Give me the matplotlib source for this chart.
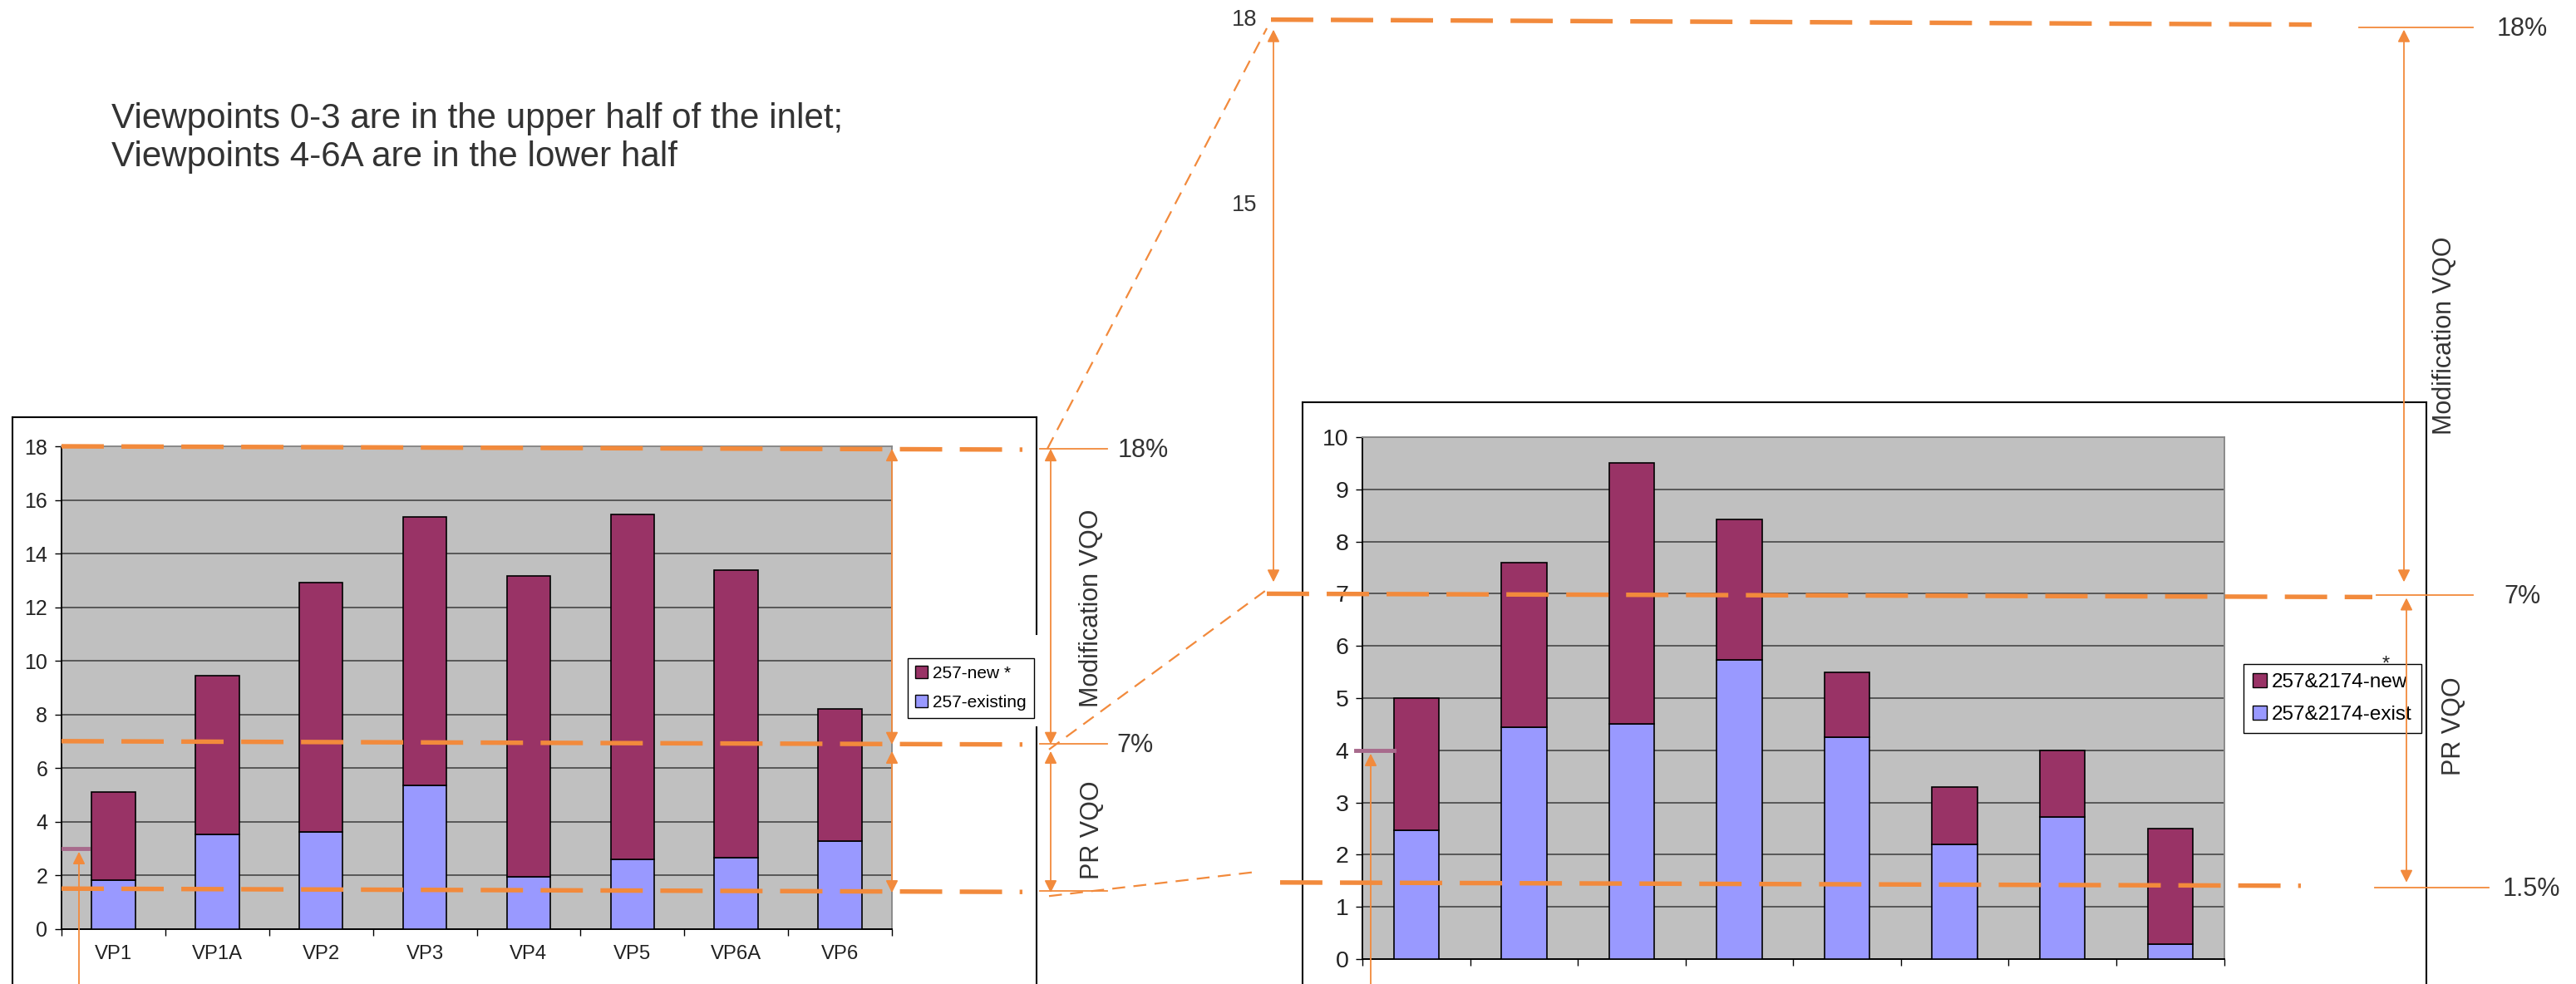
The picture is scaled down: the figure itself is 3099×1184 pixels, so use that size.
import numpy as np
import matplotlib
matplotlib.use('Agg')
import matplotlib.pyplot as plt
from matplotlib import font_manager
from matplotlib.patches import Patch

# data
left_cats = ['VP1', 'VP1A', 'VP2', 'VP3', 'VP4', 'VP5', 'VP6A', 'VP6']
left_existing = [1.81, 3.51, 3.62, 5.36, 1.94, 2.60, 2.66, 3.26]
left_new = [3.30, 5.94, 9.30, 10.01, 11.23, 12.87, 10.71, 4.95]

right_existing = [2.47, 4.44, 4.51, 5.74, 4.25, 2.19, 2.72, 0.28]
right_new = [2.53, 3.15, 4.99, 2.68, 1.24, 1.11, 1.28, 2.22]

levels = [18, 7, 1.5]
level_labels = ['18%', '7%', '1.5%']
marker_left = 3
marker_right = 4

W, H = 3099, 1184
NEW_C = '#993366'
EXIST_C = '#9999FF'
ORANGE = '#F28A3C'
PINK = '#A86A8C'

names = {f.name for f in font_manager.fontManager.ttflist}
if 'Liberation Sans Narrow' in names:
    NARROW, nk = 'Liberation Sans Narrow', 1.0
else:
    NARROW, nk = 'Liberation Sans', 0.82
REG = 'Liberation Sans'

fig = plt.figure(figsize=(W / 100, H / 100), dpi=100)


def box(x0, x1, y0, y1):
    return [x0 / W, 1 - y1 / H, (x1 - x0) / W, (y1 - y0) / H]


def style_axes(ax, ymax, step, fs):
    ax.set_facecolor('#C0C0C0')
    ax.set_xlim(-0.5, 7.5)
    ax.set_ylim(0, ymax)
    ax.set_yticks(np.arange(0, ymax + 0.1, step))
    ax.yaxis.grid(True, color='#3c3c3c', lw=1.1)
    ax.set_axisbelow(True)
    ax.set_xticks(np.arange(9) - 0.5)
    ax.set_xticklabels([])
    ax.tick_params(axis='both', which='major', direction='out', length=6,
                   width=1, color='black', labelsize=fs * nk, pad=6,
                   labelcolor='#222222')
    for lab in ax.get_yticklabels():
        lab.set_family(NARROW)
    for s in ['left', 'bottom']:
        ax.spines[s].set_color('black')
        ax.spines[s].set_linewidth(1.4)
    for s in ['top', 'right']:
        ax.spines[s].set_color('#8a8a8a')
        ax.spines[s].set_linewidth(1.4)


def stacked(ax, existing, new):
    x = np.arange(len(existing))
    b1 = ax.bar(x, existing, width=0.42, color=EXIST_C, edgecolor='black', lw=1.2, zorder=3)
    b2 = ax.bar(x, new, bottom=existing, width=0.42, color=NEW_C, edgecolor='black', lw=1.2, zorder=3)
    return b1, b2


# left chart
ax_l = fig.add_axes(box(74, 1073, 537, 1117.6))
style_axes(ax_l, 18, 2, 22)
stacked(ax_l, left_existing, left_new)
ax_l.set_xticks(np.arange(len(left_cats)), minor=True)
ax_l.set_xticklabels(left_cats, minor=True, family=NARROW, fontsize=21 * nk, color='#222222')
ax_l.tick_params(axis='x', which='minor', length=0, pad=14)

# right chart
ax_r = fig.add_axes(box(1639, 2675.5, 526, 1154))
style_axes(ax_r, 10, 1, 25)
stacked(ax_r, right_existing, right_new)

# overlay in picture pixels
ov = fig.add_axes([0, 0, 1, 1])
ov.set_xlim(0, W)
ov.set_ylim(H, 0)
ov.axis('off')
ov.patch.set_alpha(0)
ov.set_zorder(10)


def ypix(ax, v):
    return H - ax.transData.transform((0, v))[1]


yl = [ypix(ax_l, v) for v in levels]
yr = [ypix(ax_r, v) for v in levels]

# chart frames
k = dict(color='black', lw=1.5)
ov.plot([15, 1247], [501.6, 501.6], **k)
ov.plot([15, 15], [501.6, H], **k)
ov.plot([1247, 1247], [501.6, 763], **k)
ov.plot([1247, 1247], [875, H], **k)
ov.plot([1567, 2919], [484, 484], **k)
ov.plot([1567, 1567], [484, H], **k)
ov.plot([2919, 2919], [484, H], **k)

# legends
hl = [Patch(facecolor=NEW_C, edgecolor='black'), Patch(facecolor=EXIST_C, edgecolor='black')]
leg = ax_l.legend(hl, ['257-new *', '257-existing'], loc='upper left',
                  bbox_to_anchor=(1091.7, 791.7), bbox_transform=ov.transData,
                  borderaxespad=0, fancybox=False, framealpha=1, edgecolor='black',
                  prop={'family': REG, 'size': 15}, handlelength=0.7, handleheight=0.7,
                  handletextpad=0.3, labelspacing=0.75, borderpad=0.45)
leg.get_frame().set_linewidth(1.0)
leg = ax_r.legend(hl, ['257&2174-new', '257&2174-exist'], loc='upper left',
                  bbox_to_anchor=(2699, 799), bbox_transform=ov.transData,
                  borderaxespad=0, fancybox=False, framealpha=1, edgecolor='black',
                  prop={'family': REG, 'size': 17.5}, handlelength=0.7, handleheight=0.7,
                  handletextpad=0.25, labelspacing=0.7, borderpad=0.45)
leg.get_frame().set_linewidth(1.0)
ov.text(2870, 800, '*', family=REG, fontsize=17, ha='center', va='center', color='#222222')

# thick dashed level lines
dk = dict(color=ORANGE, lw=3.9, linestyle=(0, (9.4, 3.9)), solid_capstyle='butt')
for y in yl:
    ov.plot([74, 1230], [y, y + 4], **dk)
ov.plot([1529, 2781], [yr[0], yr[0] + 6], **dk)
ov.plot([1524, 2854], [yr[1], yr[1] + 4], **dk)
ov.plot([1540, 2768], [yr[2] + 2, yr[2] + 6], **dk)

# thin dashed perspective lines
tk = dict(color=ORANGE, lw=1.6, linestyle=(0, (7, 4.5)))
ov.plot([1260, 1524], [yl[0] + 3, 34], **tk)
ov.plot([1262, 1522], [yl[1] + 10, 711], **tk)
ov.plot([1262, 1512], [yl[2] + 9, 1049], **tk)

# thin tick lines and arrows
thin = dict(color=ORANGE, lw=1.3)
arr = dict(arrowstyle='<|-|>', color=ORANGE, lw=1.3, mutation_scale=22, shrinkA=0, shrinkB=0)
for y in yl:
    ov.plot([1251, 1332], [y + 3, y + 3], **thin)
for xa in [1073, 1264]:
    ov.annotate('', xy=(xa, yl[0] + 3), xytext=(xa, yl[1] + 4), arrowprops=arr)
    ov.annotate('', xy=(xa, yl[1] + 12), xytext=(xa, yl[2] + 5), arrowprops=arr)

ty = [yr[0] + 9, yr[1] + 2, yr[2] + 8]
ov.plot([2838, 2975], [ty[0]] * 2, **thin)
ov.plot([2859, 2975], [ty[1]] * 2, **thin)
ov.plot([2857, 2994], [ty[2]] * 2, **thin)
ov.annotate('', xy=(2892, ty[0] + 3), xytext=(2892, ty[1] - 16), arrowprops=arr)
ov.annotate('', xy=(2895, ty[1] + 3), xytext=(2895, ty[2] - 6), arrowprops=arr)
ov.annotate('', xy=(1532, yr[0] + 12), xytext=(1532, yr[1] - 14), arrowprops=arr)

# marker lines with arrows from below
ym_l = ypix(ax_l, marker_left)
ov.plot([76, 106], [ym_l, ym_l], color=PINK, lw=3.5)
ov.annotate('', xy=(95, ym_l + 4), xytext=(95, H), arrowprops=dict(arrowstyle='-|>', color=ORANGE, lw=1.3, mutation_scale=22, shrinkA=0, shrinkB=0))
ym_r = ypix(ax_r, marker_right)
ov.plot([1631, 1677], [ym_r, ym_r], color=PINK, lw=3.5)
ov.annotate('', xy=(1649, ym_r + 4), xytext=(1649, H), arrowprops=dict(arrowstyle='-|>', color=ORANGE, lw=1.3, mutation_scale=22, shrinkA=0, shrinkB=0))

# percent labels
lab = dict(family=REG, fontsize=22, color='#333333', va='center', ha='left')
for y, t, xs in zip(yl, level_labels[:2], [1345, 1343]):
    ov.text(xs, y + 5, t, **lab)
for y, t, xs in zip(ty, level_labels, [3004, 3012, 3011]):
    ov.text(xs, y + 2, t, **lab)

rot = dict(family=REG, fontsize=22, color='#333333', rotation=90, ha='center', va='center')
ov.text(1313, yl[0] + 0.55 * (yl[1] - yl[0]), 'Modification VQO', **rot)
ov.text(1314, yl[1] + 0.6 * (yl[2] - yl[1]), 'PR VQO', **rot)
ov.text(2941, yr[0] + 0.55 * (yr[1] - yr[0]), 'Modification VQO', **rot)
ov.text(2952, yr[1] + 0.46 * (yr[2] - yr[1]), 'PR VQO', **rot)

# scale numbers on the big ruler
ov.text(1497, yr[0], '18', family=NARROW, fontsize=24 * nk, color='#333333', ha='center', va='center')
ov.text(1497, 247, '15', family=NARROW, fontsize=24 * nk, color='#333333', ha='center', va='center')

# note
note = dict(family=NARROW, fontsize=37 * nk, color='#333333', va='baseline', ha='left')
ov.text(134, 154, 'Viewpoints 0-3 are in the upper half of the inlet;', **note)
ov.text(134, 200, 'Viewpoints 4-6A are in the lower half', **note)

fig.savefig('out.png', dpi=100)
